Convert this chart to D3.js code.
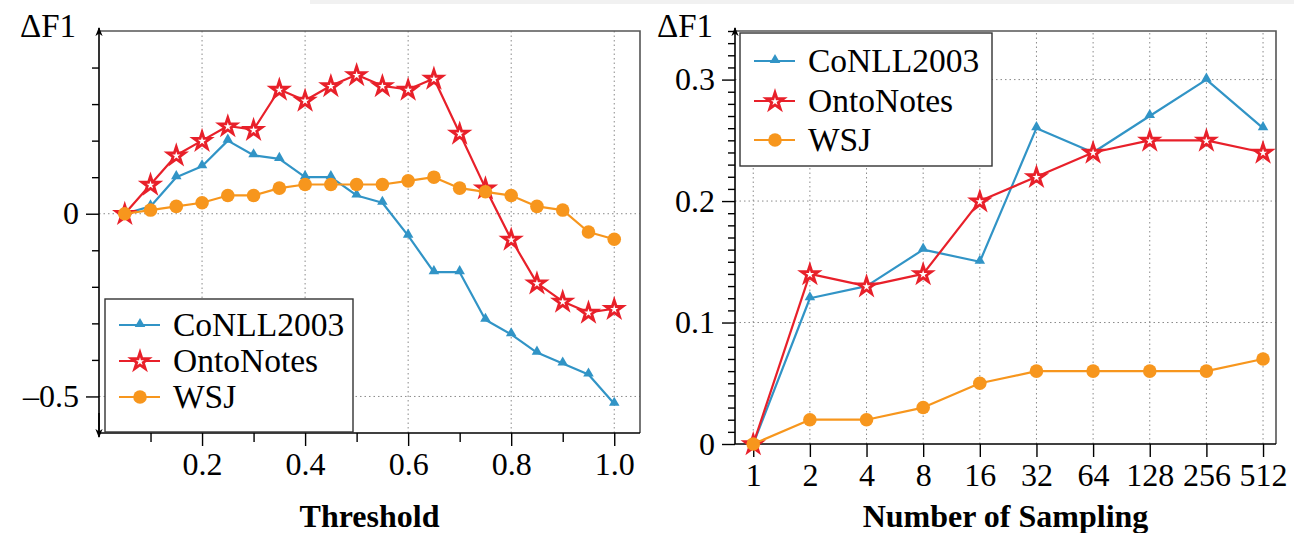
<!DOCTYPE html>
<html>
<head>
<meta charset="utf-8">
<script src="https://cdn.jsdelivr.net/npm/d3@7"></script>
<style>
  body { margin: 0; background: #fff; }
  svg { display: block; }
  svg text { font-family: "Liberation Serif", "DejaVu Serif", serif; }
</style>
</head>
<body>
<div id="chart"></div>
<script>
// ---- data: left panel (threshold) ----
var thresholds = [0.05, 0.1, 0.15, 0.2, 0.25, 0.3, 0.35, 0.4, 0.45, 0.5,
                  0.55, 0.6, 0.65, 0.7, 0.75, 0.8, 0.85, 0.9, 0.95, 1.0];
var conllThr = [0, 0.02, 0.1, 0.13, 0.2, 0.16, 0.15, 0.1, 0.1, 0.05,
                0.03, -0.06, -0.16, -0.16, -0.29, -0.33, -0.38, -0.41, -0.44, -0.52];
var ontoThr  = [0, 0.08, 0.16, 0.2, 0.24, 0.23, 0.34, 0.31, 0.35, 0.38,
                0.35, 0.34, 0.37, 0.22, 0.07, -0.07, -0.19, -0.24, -0.27, -0.26];
var wsjThr   = [0, 0.01, 0.02, 0.03, 0.05, 0.05, 0.07, 0.08, 0.08, 0.08,
                0.08, 0.09, 0.1, 0.07, 0.06, 0.05, 0.02, 0.01, -0.05, -0.07];

// ---- data: right panel (number of sampling) ----
var samples   = [1, 2, 4, 8, 16, 32, 64, 128, 256, 512];
var conllSamp = [0, 0.12, 0.13, 0.16, 0.15, 0.26, 0.24, 0.27, 0.3, 0.26];
var ontoSamp  = [0, 0.14, 0.13, 0.14, 0.2, 0.22, 0.24, 0.25, 0.25, 0.24];
var wsjSamp   = [0, 0.02, 0.02, 0.03, 0.05, 0.06, 0.06, 0.06, 0.06, 0.07];

// ---- ticks ----
var thrMajorX = [0.2, 0.4, 0.6, 0.8, 1.0];
var thrMinorX = [0.1, 0.3, 0.5, 0.7, 0.9];
var thrMajorY = [0, -0.5];
var thrMinorY = [0.4, 0.3, 0.2, 0.1, -0.1, -0.2, -0.3, -0.4];
var sampMajorY = [0, 0.1, 0.2, 0.3];

var seriesNames = ['CoNLL2003', 'OntoNotes', 'WSJ'];
var seriesColors = ['#3194c6', '#e8202a', '#f7961d'];
var seriesMarks = ['triangle', 'star', 'circle'];

var serif = '"Liberation Serif", "DejaVu Serif", serif';

var W = 1294, H = 533;
var svg = d3.select('#chart').append('svg')
    .attr('width', W)
    .attr('height', H);

// faint scan artefact strip at the very top
svg.append('rect').attr('x', 310).attr('y', 0).attr('width', 984).attr('height', 4).attr('fill', '#f1f1f1');

var defs = svg.append('defs');
defs.append('marker')
    .attr('id', 'arrow')
    .attr('viewBox', '0 0 10 10')
    .attr('refX', 9).attr('refY', 5)
    .attr('markerWidth', 9).attr('markerHeight', 9)
    .attr('markerUnits', 'userSpaceOnUse')
    .attr('orient', 'auto')
  .append('path')
    .attr('d', 'M0,1 L10,5 L0,9 L3,5 Z')
    .attr('fill', '#000');

function drawMark(g, kind, color, x, y) {
  if (kind === 'circle') {
    g.append('circle').attr('cx', x).attr('cy', y).attr('r', 6.8).attr('fill', color);
  } else if (kind === 'triangle') {
    g.append('path')
      .attr('d', d3.symbol().type(d3.symbolTriangle).size(48)())
      .attr('transform', 'translate(' + x + ',' + (y - 1) + ')')
      .attr('fill', color);
  } else {
    g.append('path')
      .attr('d', d3.symbol().type(d3.symbolStar).size(88)())
      .attr('transform', 'translate(' + x + ',' + (y + 0.5) + ')')
      .attr('fill', '#fff')
      .attr('stroke', color)
      .attr('stroke-width', 2.8)
      .attr('stroke-linejoin', 'miter');
  }
}

function gridStyle(sel) {
  sel.attr('stroke', '#8a8a8a').attr('stroke-width', 1).attr('stroke-dasharray', '1.5,3');
}

function styleAxis(g) {
  g.attr('font-family', null).attr('font-size', null);
  g.select('.domain').remove();
  g.selectAll('.tick line').attr('stroke', '#000').attr('stroke-width', 1.4);
  g.selectAll('.tick text').attr('fill', '#000')
    .style('font-family', serif).style('font-size', '32px');
}

function drawLegend(g, x0, y0, w, h, rows) {
  g.append('rect').attr('x', x0).attr('y', y0).attr('width', w).attr('height', h)
    .attr('fill', '#fff').attr('stroke', '#333').attr('stroke-width', 1.4);
  seriesNames.forEach(function (name, i) {
    var cy = rows[i];
    g.append('line').attr('x1', x0 + 14).attr('x2', x0 + 55).attr('y1', cy).attr('y2', cy)
      .attr('stroke', seriesColors[i]).attr('stroke-width', 2.2);
    drawMark(g, seriesMarks[i], seriesColors[i], x0 + 35, cy);
    g.append('text').attr('x', x0 + 68).attr('y', cy).attr('dy', '0.34em')
      .style('font-family', serif).style('font-size', '33.5px').text(name);
  });
}

function panel(opts) {
  var g = svg.append('g');
  var x = opts.x, y = opts.y;
  var left = x.range()[0], right = x.range()[1];
  var bottom = y.range()[0], top = y.range()[1];

  // grid
  opts.gridX.forEach(function (v) {
    g.append('line').attr('x1', x(v)).attr('x2', x(v)).attr('y1', bottom).attr('y2', top).call(gridStyle);
  });
  opts.gridY.forEach(function (v) {
    g.append('line').attr('x1', left).attr('x2', right).attr('y1', y(v)).attr('y2', y(v)).call(gridStyle);
  });

  // frame (top & right)
  g.append('path')
    .attr('d', 'M' + left + ',' + top + 'H' + right + 'V' + bottom)
    .attr('fill', 'none').attr('stroke', '#555').attr('stroke-width', 1.6);

  // ticks
  g.append('g').attr('transform', 'translate(' + left + ',0)')
    .call(d3.axisLeft(y).tickValues(opts.minorY).tickSize(7).tickFormat(''))
    .call(styleAxis);
  g.append('g').attr('transform', 'translate(' + left + ',0)')
    .call(d3.axisLeft(y).tickValues(opts.majorY).tickSize(13).tickPadding(7).tickFormat(opts.fmtY))
    .call(styleAxis);
  if (opts.minorX.length) {
    g.append('g').attr('transform', 'translate(0,' + bottom + ')')
      .call(d3.axisBottom(x).tickValues(opts.minorX).tickSize(9).tickFormat(''))
      .call(styleAxis);
  }
  var xa = g.append('g').attr('transform', 'translate(0,' + bottom + ')')
    .call(d3.axisBottom(x).tickValues(opts.majorX).tickSize(13).tickFormat(opts.fmtX))
    .call(styleAxis);
  xa.selectAll('.tick text').attr('y', 42).attr('dy', 0);

  // axis lines
  g.append('line').attr('x1', left).attr('x2', right).attr('y1', bottom).attr('y2', bottom)
    .attr('stroke', '#000').attr('stroke-width', 1.6);
  g.append('line').attr('x1', left).attr('x2', left)
    .attr('y1', opts.arrowDown ? bottom + 1 : bottom).attr('y2', top - 3)
    .attr('stroke', '#000').attr('stroke-width', 1.6)
    .attr('marker-end', 'url(#arrow)');
  if (opts.arrowDown) {
    g.append('line').attr('x1', left).attr('x2', left).attr('y1', bottom - 20).attr('y2', bottom + 4)
      .attr('stroke', '#000').attr('stroke-width', 1.6)
      .attr('marker-end', 'url(#arrow)');
  }

  // series
  var line = d3.line()
    .x(function (d) { return x(d[0]); })
    .y(function (d) { return y(d[1]); });
  opts.series.forEach(function (vals, i) {
    var pts = opts.xs.map(function (xv, k) { return [xv, vals[k]]; });
    g.append('path').datum(pts).attr('d', line)
      .attr('fill', 'none').attr('stroke', seriesColors[i]).attr('stroke-width', 2.2)
      .attr('stroke-linejoin', 'round');
    var mg = g.append('g');
    pts.forEach(function (p) { drawMark(mg, seriesMarks[i], seriesColors[i], x(p[0]), y(p[1])); });
  });

  // labels
  g.append('text').attr('x', opts.yLabelX).attr('y', 37)
    .style('font-family', serif).style('font-size', '33px').text('\u0394F1');
  g.append('text').attr('x', (left + right) / 2).attr('y', 527)
    .attr('text-anchor', 'middle').style('font-family', serif)
    .style('font-size', '32px').style('font-weight', 'bold')
    .text(opts.xTitle);

  drawLegend(g, opts.legend[0], opts.legend[1], opts.legend[2], opts.legend[3], opts.legend[4]);
}

// left panel
var xThr = d3.scaleLinear().domain([0, 1.05]).range([99, 640]);
var yThr = d3.scaleLinear().domain([-0.6, 0.5]).range([433, 31]);
panel({
  x: xThr, y: yThr, xs: thresholds,
  series: [conllThr, ontoThr, wsjThr],
  gridX: thrMajorX, gridY: thrMajorY,
  majorX: thrMajorX, minorX: thrMinorX,
  majorY: thrMajorY, minorY: thrMinorY,
  fmtX: d3.format('.1f'),
  fmtY: function (d) { return d === 0 ? '0' : '\u2013' + Math.abs(d); },
  arrowDown: true,
  yLabelX: 20,
  xTitle: 'Threshold',
  legend: [105, 299, 248, 133, [325, 361, 397]]
});

// right panel
var xSamp = d3.scaleLog().base(2).domain([0.8, 600]).range([735, 1276]);
var ySamp = d3.scaleLinear().domain([0, 0.34]).range([444, 31]);
var sampMinorY = d3.range(1, 35).filter(function (k) { return k % 10 !== 0; })
  .map(function (k) { return k / 100; });
panel({
  x: xSamp, y: ySamp, xs: samples,
  series: [conllSamp, ontoSamp, wsjSamp],
  gridX: samples, gridY: sampMajorY.slice(1),
  majorX: samples, minorX: [],
  majorY: sampMajorY, minorY: sampMinorY,
  fmtX: d3.format('d'),
  fmtY: function (d) { return d === 0 ? '0' : String(d); },
  arrowDown: false,
  yLabelX: 657,
  xTitle: 'Number of Sampling',
  legend: [740, 33, 252, 133, [61, 101, 140]]
});
</script>
</body>
</html>
